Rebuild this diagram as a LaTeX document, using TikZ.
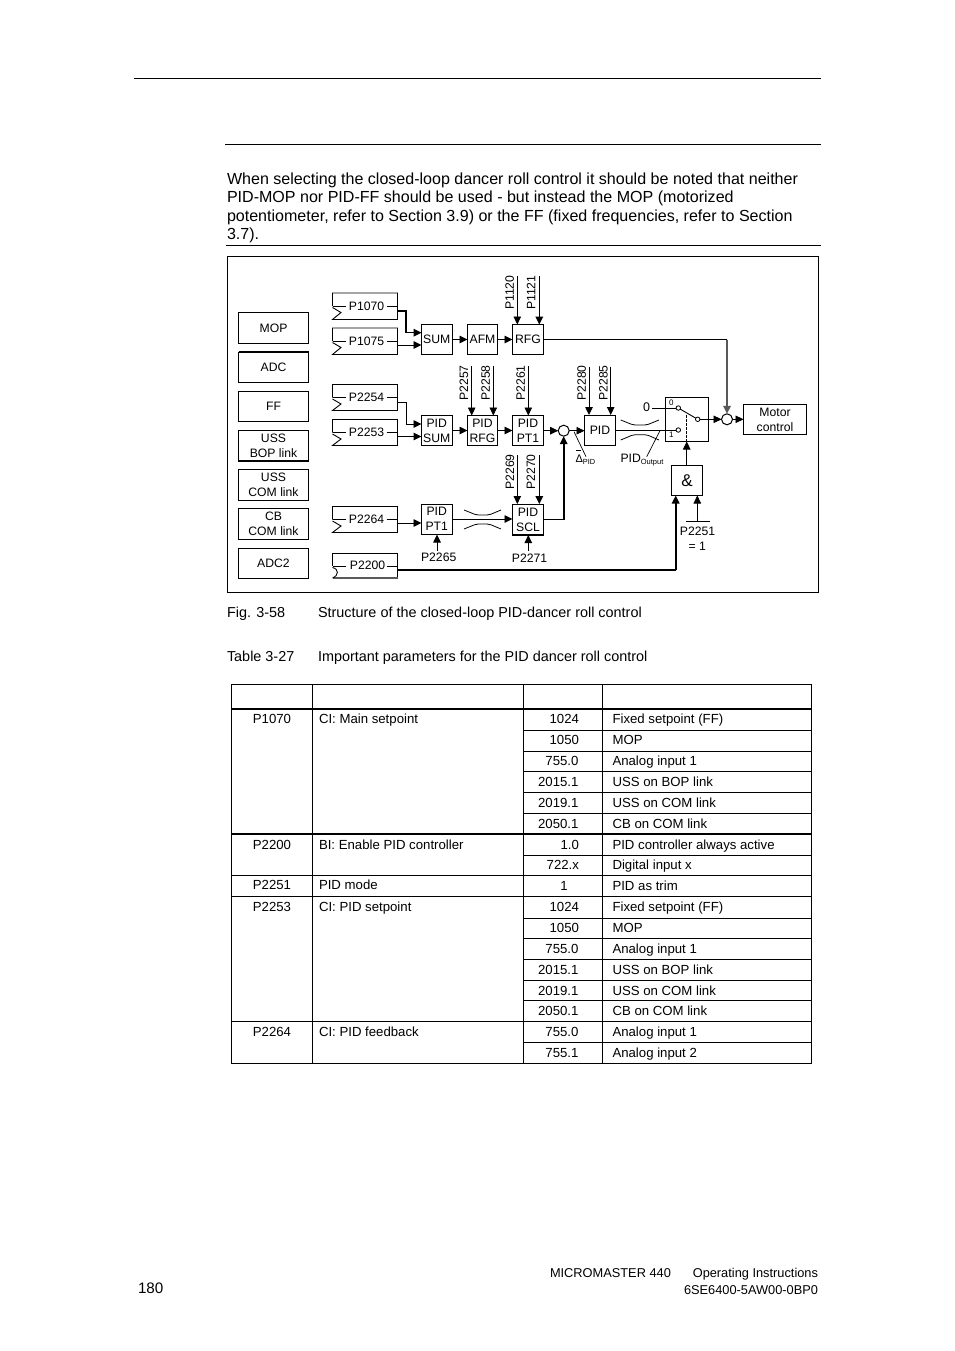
\documentclass[tikz,border=0pt]{standalone}
\usepackage{fontspec}
\setmainfont{Liberation Sans}
\usetikzlibrary{arrows.meta}
\tikzset{
  blk/.style={draw=black,line width=1pt,inner sep=0pt,outer sep=0pt,align=center,font=\dfont},
  plain/.style={inner sep=0pt,outer sep=0pt,font=\dfont,align=center},
  wire/.style={draw=black,line width=.9pt,-{Triangle[length=8pt,width=7.5pt]}},
  thickwire/.style={wire,line width=1.6pt},
  line/.style={draw=black,line width=.9pt},
  heavy/.style={draw=black,line width=1.8pt},
  greyheavy/.style={draw=black!65,line width=1.8pt},
  grid/.style={draw=black,line width=.8pt},
  gridthick/.style={draw=black,line width=1.6pt},
  limit/.style={draw=black,line width=.8pt,rounded corners=2pt},
  body/.style={inner sep=0pt,outer sep=0pt,anchor=base west,font=\fontsize{16.05}{18}\selectfont},
  capt/.style={inner sep=0pt,outer sep=0pt,anchor=base west,font=\fontsize{14.42}{16}\selectfont},
  tab/.style={inner sep=0pt,outer sep=0pt,anchor=base west,font=\fontsize{13.2}{15}\selectfont},
  tabr/.style={tab,anchor=base east},
  tabc/.style={tab,anchor=base},
  foot/.style={inner sep=0pt,outer sep=0pt,anchor=base west,font=\fontsize{12.8}{15}\selectfont},
  footr/.style={foot,anchor=base east},
  sumc/.style={circle,draw=black,line width=1pt,minimum size=11pt,inner sep=0pt,outer sep=0pt},
  pin/.style={circle,draw=black,fill=white,line width=.8pt,minimum size=4.5pt,inner sep=0pt,outer sep=0pt},
}
\newcommand{\dfont}{\fontsize{12.2}{15}\selectfont}
% box from corners
\newcommand{\bx}[6]{%
  \pgfmathsetmacro{\bw}{#4-#2}\pgfmathsetmacro{\bh}{#5-#3}%
  \pgfmathsetmacro{\bcx}{(#4+#2)/2}\pgfmathsetmacro{\bcy}{(#5+#3)/2}%
  \node[blk,minimum width=\bw pt,minimum height=\bh pt] (#1) at (\bcx,\bcy) {#6};}
% parameter box, notched left edge
\newcommand{\parm}[4]{%
  \pgfmathsetmacro{\bh}{#3-#2}\pgfmathsetmacro{\bcy}{(#3+#2)/2}%
  \pgfmathsetmacro{\bn}{#2+14.5}\pgfmathsetmacro{\bt}{#2+19.5}%
  \pgfmathsetmacro{\bl}{#2+13}%
  \node[plain,minimum width=65pt,minimum height=\bh pt] (#1) at (365,\bcy) {\hspace*{3pt}#4};
  \draw[line] (332.5,\bl) -- (332.5,#2) -- (397.5,#2) -- (397.5,#3) -- (332.5,#3) -- (341,\bt) -- (332.5,\bn);
  \draw[line] (332.5,\bl) -- (345.5,\bl) (386.5,\bl) -- (397.5,\bl);}
% rotated input above a block
\newcommand{\topin}[8]{%
  \node[plain,rotate=90] (#1) at (#3,#4) {#2};
  \coordinate (#1c) at (#5,#6);
  \draw[#8] (#1c) -- (#1c |- #7.north);}
\newcommand{\tx}[5][tab]{\node[#1] (#2) at (#3,#4) {#5};}
\begin{document}
\begin{tikzpicture}[x=1pt,y=-1pt]
\useasboundingbox[fill=white] (0,0) rectangle (954,1351);

% page rules
\coordinate (r1a) at (134,78.5); \coordinate (r1b) at (821,78.5);
\coordinate (r2a) at (225,144.5); \coordinate (r2b) at (821,144.5);
\coordinate (r3a) at (226,245.5); \coordinate (r3b) at (821,245.5);
\draw[grid] (r1a) -- (r1b);
\draw[grid] (r2a) -- (r2b);
\draw[grid] (r3a) -- (r3b);

% body text
\node[body] (b1) at (227,185) {When selecting the closed-loop dancer roll control it should be noted that neither};
\node[body] (b2) at (227,203) {PID-MOP nor PID-FF should be used - but instead the MOP (motorized};
\node[body] (b3) at (227,221) {potentiometer, refer to Section 3.9) or the FF (fixed frequencies, refer to Section};
\node[body] (b4) at (227,239) {3.7).};

% frame
\draw[line] (227.5,256.5) rectangle (818.5,592.5);

% left column
\bx{mop}{238.5}{312.5}{308.5}{343.5}{MOP}
\bx{adc}{238.5}{352}{308.5}{382.5}{ADC}
\bx{ff}{238.5}{391}{308.5}{421}{FF}
\bx{bop}{238.5}{430.5}{308.5}{461}{USS\\BOP link}
\bx{com}{238.5}{469.5}{308.5}{500}{USS\\COM link}
\bx{cb}{238.5}{508.5}{308.5}{539.5}{CB\\COM link}
\bx{adctwo}{238.5}{548}{308.5}{578.5}{ADC2}
\draw[heavy] (adc.north west) -- (adc.north east);
\draw[heavy] (bop.south west) -- (bop.south east);
\draw[heavy] (cb.north west) -- (cb.north east);

% parameter boxes
\parm{pa}{293}{319.5}{P1070}
\parm{pb}{328}{354.5}{P1075}
\parm{pc}{384.5}{410.5}{P2254}
\parm{pd}{419.5}{445.5}{P2253}
\parm{pe}{506.5}{532.5}{P2264}
% P2200, curved notch
\node[plain,minimum width=65pt,minimum height=25pt] (pf) at (365,565.3) {\hspace*{5pt}P2200};
\draw[line] (332.5,566) -- (332.5,553.5) -- (397.5,553.5) -- (397.5,578.2);
\draw[greyheavy] (332.5,578.2) -- (397.5,578.2);
\draw[line] (332.5,578) .. controls (339,575.5) and (339,569) .. (332.5,567.5);
\draw[line] (332.5,566) -- (346,566) (387,566) -- (397.5,566);

% blocks
\bx{sum}{421.5}{324.5}{452}{354.5}{SUM}
\bx{afm}{467.5}{324.5}{497.5}{354.5}{AFM}
\bx{rfg}{512.5}{324.5}{543.5}{354.5}{RFG}
\bx{psum}{421.5}{415.5}{452}{445.5}{PID\\SUM}
\bx{prfg}{467.5}{415.5}{497.5}{445.5}{PID\\RFG}
\bx{ppt}{512.5}{415.5}{543.5}{445.5}{PID\\PT1}
\bx{qpt}{421.5}{504}{452}{534.5}{PID\\PT1}
\bx{scl}{512.5}{504}{543.5}{535}{PID\\SCL}
\draw[heavy] (scl.south west) -- (scl.south east);
\bx{pid}{584.5}{415}{615.5}{445}{PID}
\bx{swb}{665}{397.5}{708.5}{441.5}{}
\bx{mot}{743.5}{404.5}{806.5}{434.5}{Motor\\control}
\node[blk,minimum width=31pt,minimum height=30pt,font=\fontsize{17}{18}\selectfont] (and) at (687,480.5) {\&};
\node[sumc] (sa) at (563.7,430.7) {};
\node[sumc] (sb) at (727,419.3) {};

% top inputs
\topin{ia}{P1120}{509.7}{292.7}{517.3}{276}{rfg}{wire}
\topin{ib}{P1121}{531}{292.7}{539.3}{276}{rfg}{thickwire}
\topin{ic}{P2257}{464}{383}{471.7}{366}{prfg}{wire}
\topin{id}{P2258}{485.7}{383}{493.3}{366}{prfg}{wire}
\topin{ie}{P2261}{520.7}{383}{528.3}{366}{ppt}{wire}
\topin{if}{P2269}{510}{472}{517.3}{455}{scl}{wire}
\topin{ig}{P2270}{531}{472}{539.3}{455}{scl}{thickwire}
\topin{ih}{P2280}{581.7}{383}{589}{366.5}{pid}{wire}
\topin{ii}{P2285}{603.3}{383}{610.7}{366.5}{pid}{wire}

% wires
\draw[thickwire,line width=1.4pt] (pa.east |- 0,311) -- (406,311) |- (sum.west |- 0,332.7);
\draw[wire] (pb.east |- 0,345) -- (sum.west |- 0,345);
\draw[wire] (pc.east |- 0,402) -- (406,402) |- (psum.west |- 0,424);
\draw[thickwire,line width=1.4pt] (pd.east |- 0,436.5) -- (psum.west |- 0,436.5);
\draw[wire] (pe.east |- 0,523) -- (qpt.west |- 0,523);
\draw[wire] (sum) -- (afm);
\draw[wire] (afm) -- (rfg);
\draw[wire] (psum) -- (prfg);
\draw[wire] (prfg) -- (ppt);
\draw[wire] (qpt.east |- 0,519) -- (scl.west |- 0,519);
\draw[wire] (ppt.east |- 0,430.7) -- (sa);
\draw[wire] (sa) -- (pid.west |- sa);
\coordinate (rfgk) at (rfg.east -| sb);
\draw[line] (rfg.east) -- (rfgk);
\draw[wire,line width=1.6pt,draw=black!65,fill=black] (rfgk) -- (sb);
\coordinate (sclk) at (scl.east |- 0,519.5);
\coordinate (sclj) at (sclk -| sa);
\draw[line,line width=1.1pt] (sclk) -- (sclj);
\draw[thickwire,line width=1.8pt] (sclj) -- (sa);
\coordinate (pfk) at (pf.east |- 0,570);
\coordinate (pfj) at (675.7,570);
\draw[line,line width=1.1pt] (pfk) -- (pfj);
\draw[thickwire,line width=1.8pt] (pfj) -- (pfj |- and.south);

% switch
\node[pin] (s0) at (678.3,408) {};
\node[pin] (s1) at (678.3,430) {};
\node[pin] (s2) at (697.7,419.3) {};
\draw[line] (s0) -- (s2);
\draw[line] (pid.east |- s1) -- (s1);
\node[plain,font=\fontsize{12.5}{14}\selectfont] (zero) at (646.7,407.5) {0};
\draw[line] (zero.east) ++(2,0) coordinate (zs) (zs |- s0) -- (s0);
\node[plain,font=\fontsize{8}{9}\selectfont] (sw0) at (671.3,402.7) {0};
\node[plain,font=\fontsize{8}{9}\selectfont] (sw1) at (671.3,434.7) {1};
\draw[wire] (s2) -- (sb);
\draw[wire] (sb) -- (mot.west |- sb);
\draw[wire] (and.north -| 686.7,0) -- (swb.south -| 686.7,0);
\draw[line,dashed,dash pattern=on 2.5pt off 1.5pt] (swb.south -| 686.7,0) -- (686.7,414);

% and inputs
\node[plain] (pg) at (697.5,531) {P2251};
\node[plain] (eqo) at (697.3,546) {= 1};
\coordinate (ovl) at (686,521.7); \coordinate (ovr) at (710,521.7); \coordinate (ovm) at (697.3,521.7);
\draw[line] (ovl) -- (ovr);
\draw[wire] (ovm) -- (ovm |- and.south);
\node[plain] (ph) at (438.7,557.7) {P2265};
\coordinate (phc) at (437,550.5);
\draw[wire] (phc) -- (phc |- qpt.south);
\node[plain] (pi) at (529.5,558) {P2271};
\coordinate (pic) at (528.3,550.5);
\draw[wire] (pic) -- (pic |- scl.south);

% limiter symbols
\draw[limit] (464,510) -- (476.5,515) -- (489,515) -- (501,510);
\draw[limit] (464,529) -- (476.5,524) -- (489,524) -- (501,529);
\draw[limit] (620.7,420) -- (633.3,425) -- (646.7,425) -- (659,420);
\draw[limit] (620.7,440) -- (633.3,434.7) -- (646.7,434.7) -- (659,440);

% delta and output labels
\node[plain,anchor=base west] (dl) at (575.5,462) {\fontsize{11}{12}\selectfont Δ\raisebox{-2.5pt}{\fontsize{7.4}{8}\selectfont PID}};
\coordinate (dlo) at (575.5,450.5); \coordinate (dlp) at (581,450.5);
\draw[line,line width=.7pt] (dlo) -- (dlp);
\coordinate (dla) at (574,431.7); \coordinate (dlb) at (586,456.7);
\draw[line,line width=.7pt] (dla) -- (dlb);
\node[plain,anchor=base west] (po) at (620.5,462) {PID\raisebox{-2.5pt}{\fontsize{7.5}{8}\selectfont Output}};
\coordinate (poa) at (646.7,456.7); \coordinate (pob) at (660,430.7);
\draw[line,line width=.7pt] (poa) -- (pob);

% captions
\node[capt] (c1) at (227,617) {Fig. 3-58};
\node[capt] (c2) at (318,617) {Structure of the closed-loop PID-dancer roll control};
\node[capt] (c3) at (227,661) {Table 3-27};
\node[capt] (c4) at (318,661) {Important parameters for the PID dancer roll control};

% table
\draw[grid] (231.5,684) rectangle (811.5,1063.5);
\draw[grid] (312.5,684) -- (312.5,1063.5);
\draw[grid] (523.5,684) -- (523.5,1063.5);
\draw[grid] (602.5,684) -- (602.5,1063.5);
\draw[gridthick] (231.5,709) -- (811.5,709);
\draw[gridthick] (231.5,834) -- (811.5,834);
\foreach \yy in {875.5,896.5,1021.5} \draw[grid] (231.5,\yy) -- (811.5,\yy);
\foreach \yy in {730,751,771.5,792.5,813,855,918,938.5,959.5,980.5,1000.5,1042} \draw[grid] (523.5,\yy) -- (811.5,\yy);

\tx[tabc]{ta}{272}{723}{P1070}
\tx[tabc]{tb}{272}{849}{P2200}
\tx[tabc]{tc}{272}{889}{P2251}
\tx[tabc]{td}{272}{911}{P2253}
\tx[tabc]{te}{272}{1036}{P2264}
\tx{na}{319}{723}{CI: Main setpoint}
\tx{nb}{319}{849}{BI: Enable PID controller}
\tx{nc}{319}{889}{PID mode}
\tx{nd}{319}{911}{CI: PID setpoint}
\tx{ne}{319}{1036}{CI: PID feedback}

\tx[tabr]{v1}{579}{723}{1024}
\tx[tabr]{v2}{579}{744}{1050}
\tx[tabr]{v3}{578.5}{765}{755.0}
\tx[tabr]{v4}{578.5}{786}{2015.1}
\tx[tabr]{v5}{578.5}{807}{2019.1}
\tx[tabr]{v6}{578.5}{828}{2050.1}
\tx[tabr]{v7}{579}{849}{1.0}
\tx[tabr]{v8}{579}{869}{722.x}
\tx[tabc]{v9}{564}{890}{1}
\tx[tabr]{v10}{579}{911}{1024}
\tx[tabr]{v11}{579}{932}{1050}
\tx[tabr]{v12}{578.5}{953}{755.0}
\tx[tabr]{v13}{578.5}{974}{2015.1}
\tx[tabr]{v14}{578.5}{995}{2019.1}
\tx[tabr]{v15}{578.5}{1015}{2050.1}
\tx[tabr]{v16}{578.5}{1036}{755.0}
\tx[tabr]{v17}{578.5}{1057}{755.1}

\tx{d1}{612.5}{723}{Fixed setpoint (FF)}
\tx{d2}{612.5}{744}{MOP}
\tx{d3}{612.5}{765}{Analog input 1}
\tx{d4}{612.5}{786}{USS on BOP link}
\tx{d5}{612.5}{807}{USS on COM link}
\tx{d6}{612.5}{828}{CB on COM link}
\tx{d7}{612.5}{849}{PID controller always active}
\tx{d8}{612.5}{869}{Digital input x}
\tx{d9}{612.5}{890}{PID as trim}
\tx{d10}{612.5}{911}{Fixed setpoint (FF)}
\tx{d11}{612.5}{932}{MOP}
\tx{d12}{612.5}{953}{Analog input 1}
\tx{d13}{612.5}{974}{USS on BOP link}
\tx{d14}{612.5}{995}{USS on COM link}
\tx{d15}{612.5}{1015}{CB on COM link}
\tx{d16}{612.5}{1036}{Analog input 1}
\tx{d17}{612.5}{1057}{Analog input 2}

% footer
\tx[foot]{fa}{550}{1277}{MICROMASTER 440}
\tx[footr]{fb}{818}{1277}{Operating Instructions}
\tx[footr]{fc}{818}{1294}{6SE6400-5AW00-0BP0}
\node[body,font=\fontsize{15.2}{18}\selectfont] (fd) at (138,1293) {180};
\end{tikzpicture}
\end{document}
